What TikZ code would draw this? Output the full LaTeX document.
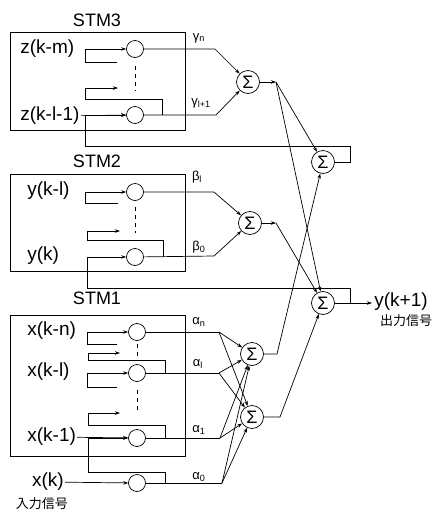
\documentclass[tikz,border=0pt]{standalone}
\usepackage{fontspec}
\setmainfont{Liberation Sans}
\newfontfamily\jpfont{Noto Sans CJK JP}
\usetikzlibrary{arrows.meta}
\begin{document}
\begin{tikzpicture}[x=1pt,y=-1pt,line width=0.7pt,
  arr/.style={-{Stealth[length=5pt,width=3.5pt]}},
  delay/.style={circle,draw,inner sep=0pt,minimum size=17pt},
  sum/.style={circle,draw,inner sep=0pt,minimum size=23pt,font=\fontsize{18}{18}\selectfont},
  var/.style={inner sep=1pt,font=\fontsize{19}{19}\selectfont},
  stm/.style={font=\fontsize{18}{18}\selectfont},
  coef/.style={inner sep=0pt,font=\fontsize{13}{13}\selectfont},
  dots/.style={dash pattern=on 4pt off 4pt}]
  \useasboundingbox (0,0) rectangle (437,515);

  % Bloques de memoria
  \draw (10,32) rectangle (185,130);
  \draw (10,174) rectangle (185,271);
  \draw (10,315) rectangle (185,456);
  \node[stm] (stm3) at (97,20) {STM3};
  \node[stm] (stm2) at (97,161) {STM2};
  \node[stm] (stm1) at (97,298) {STM1};

  % Elementos de retardo
  \node[delay] (zm) at (135,49) {};
  \node[delay] (zl) at (135,115) {};
  \node[delay] (yl) at (135,192) {};
  \node[delay] (yk) at (135,257) {};
  \node[delay] (xn) at (137,332) {};
  \node[delay] (xl) at (137,373) {};
  \node[delay] (x1) at (137,438) {};
  \node[delay] (x0) at (137,483) {};

  % Sumadores
  \node[sum] (s3) at (248,82) {Σ};
  \node[sum] (s2) at (250,223) {Σ};
  \node[sum] (s4) at (323,162) {Σ};
  \node[sum] (s5) at (323,303) {Σ};
  \node[sum] (s1a) at (252,354) {Σ};
  \node[sum] (s1b) at (252,417) {Σ};

  % Textos de las senales
  \node[var,anchor=west] (tzm) at (19,49) {z(k-m)};
  \node[var,anchor=west] (tzl) at (19,116) {z(k-l-1)};
  \node[var,anchor=west] (tyl) at (26,191) {y(k-l)};
  \node[var,anchor=west] (tyk) at (26,256) {y(k)};
  \node[var,anchor=west] (txn) at (26,331) {x(k-n)};
  \node[var,anchor=west] (txl) at (26,372) {x(k-l)};
  \node[var,anchor=west] (tx1) at (26,437) {x(k-1)};
  \node[var] (tx0) at (48,482) {x(k)};
  \node[font=\jpfont\fontsize{13}{13}\selectfont] (tin) at (42,504) {入力信号};

  % Coeficientes
  \node[coef] (gn) at (199,38) {γ\textsubscript{n}};
  \node[coef] (gl) at (201,103) {γ\textsubscript{l+1}};
  \node[coef] (bl) at (197,177) {β\textsubscript{l}};
  \node[coef] (b0) at (199,247) {β\textsubscript{0}};
  \node[coef] (an) at (199,322) {α\textsubscript{n}};
  \node[coef] (al) at (198,364) {α\textsubscript{l}};
  \node[coef] (a1) at (199,430) {α\textsubscript{1}};
  \node[coef] (a0) at (199,477) {α\textsubscript{0}};

  % Puntos libres
  \coordinate (zmin) at (117,62);
  \coordinate (zlin) at (118,88);
  \coordinate (ylin) at (118,203);
  \coordinate (ykin) at (120,231);
  \coordinate (xnin) at (117,344);
  \coordinate (xlfb) at (120,353);
  \coordinate (xlin) at (117,387);
  \coordinate (x1fb) at (120,413);
  \coordinate (j3) at (276,82);
  \coordinate (j2) at (276,223);
  \coordinate (yout) at (372,303);

  % STM3
  \draw[arr] (zmin) -| (85,49) -- (zm);
  \draw[dots] (135,66) -- (135,91);
  \draw[arr] (162,115) |- (85,99) |- (zlin);
  \draw[arr] (tzl) -- (zl);
  \draw[arr] (zm) -- (215,49) -- (s3);
  \draw[arr] (zl) -- (216,115) -- (s3);

  % STM2
  \draw[arr] (ylin) -| (85,192) -- (yl);
  \draw[dots] (135,207) -- (135,233);
  \draw[arr] (163,257) |- (87,240) |- (ykin);
  \draw[arr] (yl) -- (214,192) -- (s2);
  \draw[arr] (yk) -- (214,256) -- (s2);

  % STM1
  \draw[arr] (xnin) -| (87,332) -- (xn);
  \draw[dots] (137,344) -- (137,357);
  \draw[arr] (165,373) |- (88,360) |- (xlfb);
  \draw[arr] (xlin) -| (87,373) -- (xl);
  \draw[dots] (137,390) -- (137,411);
  \draw[arr] (165,438) |- (88,425) |- (x1fb);
  \draw[arr] (tx1) -- (x1);
  \draw[arr] (165,483) |- (88,472) |- (x1);
  \draw[arr] (tx0) -- (x0);
  \draw (xn) -- (219,332);
  \draw (xl) -- (219,373);
  \draw (x1) -- (220,438);
  \draw (x0) -- (222,483);
  \foreach \px/\py in {219/332, 219/373, 220/438, 222/483}
    \foreach \s in {s1a, s1b}
      \draw[arr] (\px,\py) -- (\s);

  % Salidas de los sumadores
  \draw[arr] (s3) -- (j3);
  \draw[arr] (j3) -- (s4);
  \draw[arr] (j3) -- (s5);
  \draw[arr] (s2) -- (j2);
  \draw[arr] (j2) -- (s5);
  \draw[arr] (s1a) -- (277,354) -- (s4);
  \draw[arr] (s1b) -- (280,417) -- (s5);

  % Realimentaciones
  \draw[arr] (s4) -- (350,162) |- (85,146) |- (zl);
  \draw[arr] (350,303) |- (87,288) |- (yk);

  % Salida
  \draw[arr] (s5) -- (yout);
  \node[var,anchor=west] (ty) at (373,302) {y(k+1)};
  \node[font=\jpfont\fontsize{13}{13}\selectfont] (tout) at (406,321) {出力信号};
\end{tikzpicture}
\end{document}
